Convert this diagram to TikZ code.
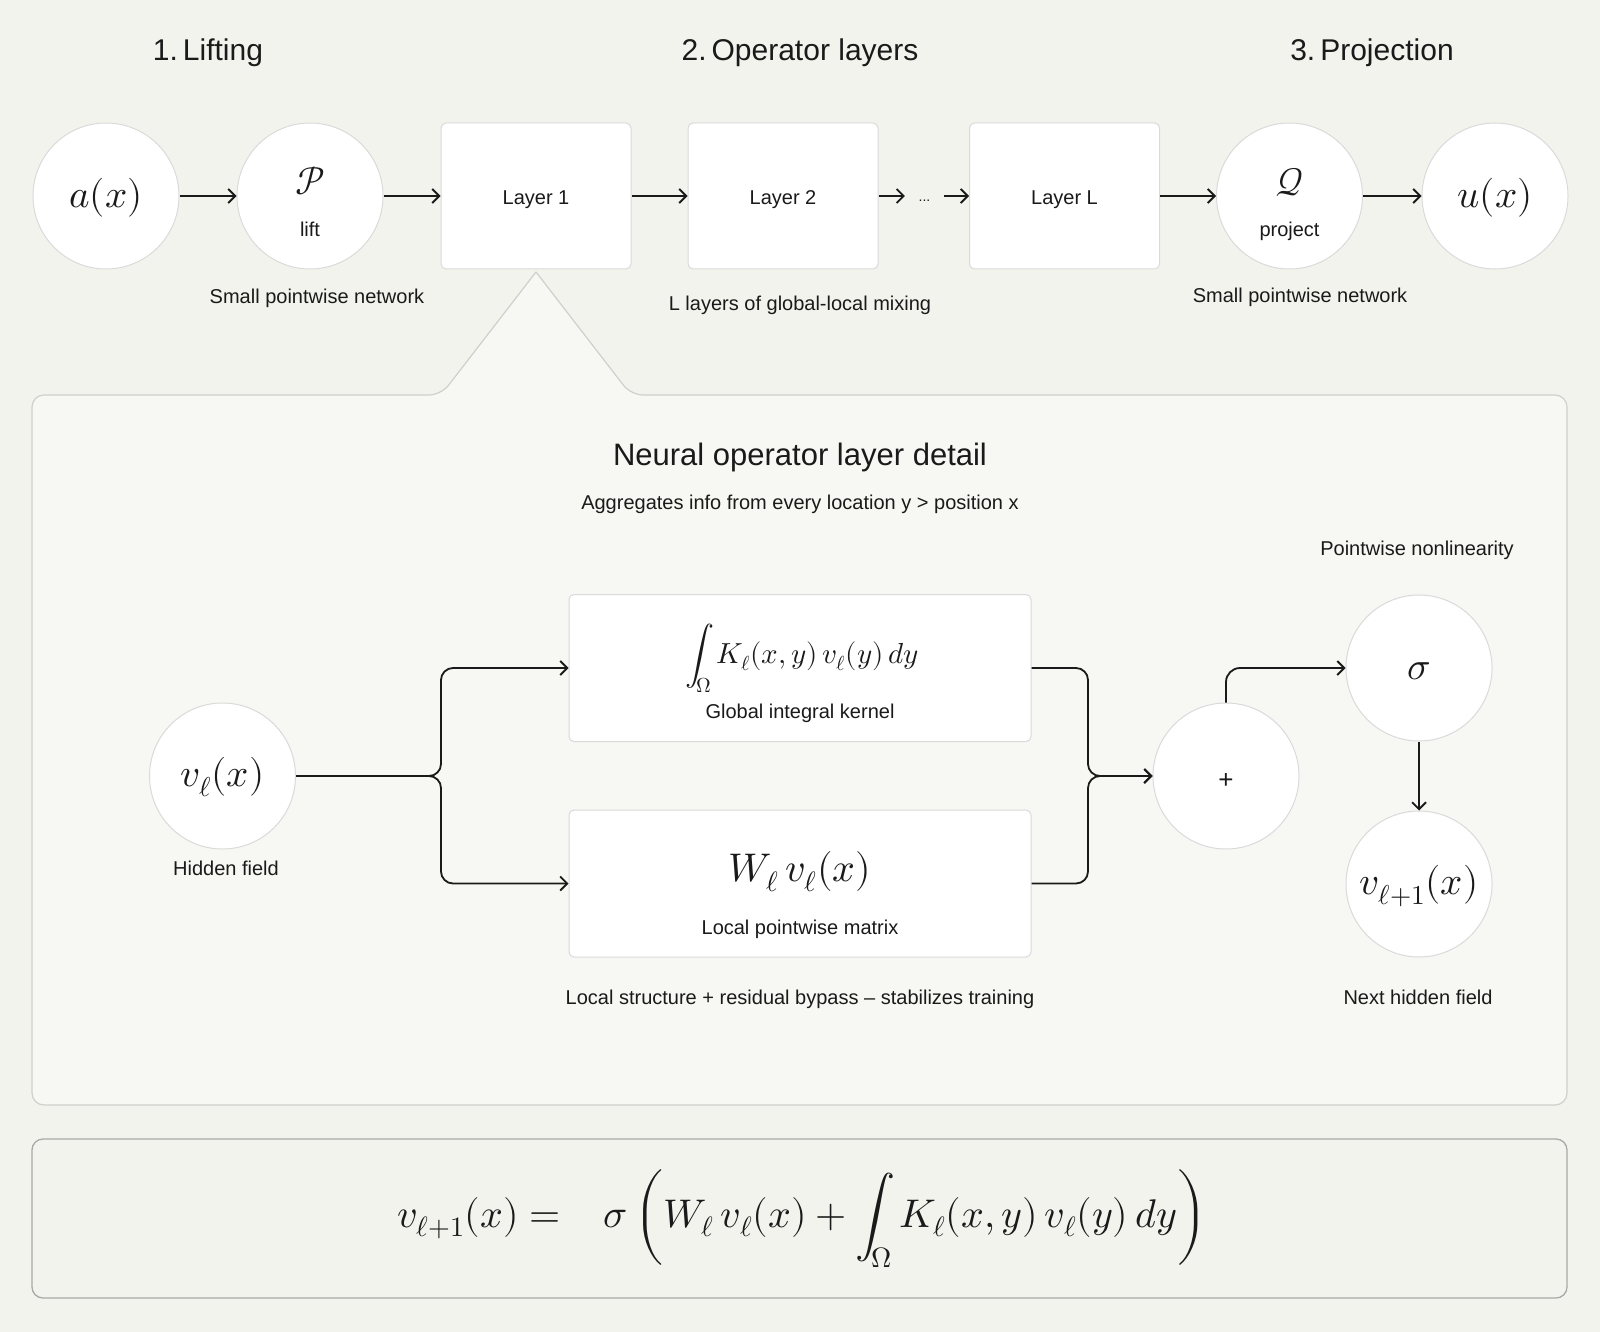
\documentclass[tikz,border=0pt]{standalone}
\usepackage{fontspec}
\usepackage{unicode-math}
\setmainfont{Liberation Sans}
\setmathfont{Latin Modern Math}
\usetikzlibrary{arrows.meta}
\definecolor{bgc}{HTML}{F3F3EE}
\definecolor{panelfill}{HTML}{F7F7F3}
\definecolor{panelline}{HTML}{CFCFCB}
\definecolor{boxline}{HTML}{A9A9A7}
\definecolor{nodeline}{HTML}{DADADA}
\definecolor{ink}{HTML}{1A1A1A}
\tikzset{
  circ/.style={circle, minimum size=146pt, inner sep=0pt, fill=white, draw=nodeline, line width=1pt},
  lbox/.style={rectangle, rounded corners=5pt, minimum width=190pt, minimum height=146pt, inner sep=0pt, fill=white, draw=nodeline, line width=1pt},
  wbox/.style={rectangle, rounded corners=5pt, minimum width=462pt, minimum height=147pt, inner sep=0pt, fill=white, draw=nodeline, line width=1pt},
  lbl/.style={anchor=base, inner sep=0pt, text=ink, font=\fontsize{20}{24}\selectfont},
  ttl/.style={anchor=base, inner sep=0pt, text=ink, font=\fontsize{30}{36}\selectfont},
  mth/.style={inner sep=0pt, text=ink, font=\fontsize{39}{47}\selectfont},
  arr/.style={draw=ink, line width=1.8pt, -{Straight Barb[length=7pt,width=14pt]}},
}
\begin{document}
\begin{tikzpicture}[x=1pt,y=-1pt]
\useasboundingbox (0,0) rectangle (1600,1332);
\fill[bgc] (0,0) rectangle (1600,1332);

% titles
\node[ttl] (t1) at (208,61) {1.\,Lifting};
\node[ttl] (t2) at (800,61) {2.\,Operator layers};
\node[ttl] (t3) at (1372,61) {3.\,Projection};

% detail panel with callout
\filldraw[fill=panelfill, draw=panelline, line width=1.2pt, rounded corners=12pt, line cap=round]
  (536,272) -- (441,395) -- (32,395) -- (32,1105) -- (1567,1105) -- (1567,395) -- (631,395) -- (536,272);

% bottom formula box
\draw[draw=boxline, line width=1.3pt, rounded corners=11pt] (32,1139) rectangle (1567,1298);

% top row
\node[circ] (a) at (106,196) {};
\node[mth] (atxt) at (106,198) {$a(x)$};
\node[circ] (P) at (310,196) {};
\node[mth, anchor=base] (Psym) at (310,195) {$\mathcal{P}$};
\node[lbl] (Plift) at (310,237) {lift};
\node[lbox] (L1) at (536,196) {};
\node[lbl] (L1t) at (536,205) {Layer 1};
\node[lbox] (L2) at (783,196) {};
\node[lbl] (L2t) at (783,205) {Layer 2};
\node[minimum width=39pt, inner sep=0pt, text height=12pt, text depth=0pt, text=ink, font=\fontsize{14}{16}\selectfont] (dots) at (924.5,196) {...};
\node[lbox] (LL) at (1064.5,196) {};
\node[lbl] (LLt) at (1064.5,205) {Layer L};
\node[circ] (Q) at (1289.5,196) {};
\node[mth, anchor=base] (Qsym) at (1289.5,196) {$\mathcal{Q}$};
\node[lbl] (Qproj) at (1289.5,237) {project};
\node[circ] (u) at (1495,196) {};
\node[mth] (utxt) at (1495,198) {$u(x)$};

\draw[arr] (a) -- (P);
\draw[arr] (P) -- (L1);
\draw[arr] (L1) -- (L2);
\draw[arr] (L2) -- (dots);
\draw[arr] (dots) -- (LL);
\draw[arr] (LL) -- (Q);
\draw[arr] (Q) -- (u);

\node[lbl] (c1) at (317,303) {Small pointwise network};
\node[lbl] (c2) at (800,310) {L layers of global-local mixing};
\node[lbl] (c3) at (1300,302) {Small pointwise network};

% panel content
\node[anchor=base, inner sep=0pt, text=ink, font=\fontsize{31}{37}\selectfont] (ptitle) at (800,465) {Neural operator layer detail};
\node[lbl] (psub) at (800,509) {Aggregates info from every location y > position x};
\node[lbl] (pnl) at (1417,555) {Pointwise nonlinearity};

\node[circ] (v) at (222.5,776) {};
\node[mth] (vtxt) at (222.5,777) {$v_\ell(x)$};
\node[lbl] (vcap) at (226,875) {Hidden field};

\node[wbox] (K) at (800,668) {};
\node[anchor=base, inner sep=0pt, text=ink, font=\fontsize{29}{34}\selectfont] (Ktxt) at (802,663) {$\displaystyle\int_\Omega K_\ell(x,y)\, v_\ell(y)\, dy$};
\node[lbl] (Kcap) at (800,718) {Global integral kernel};

\node[wbox] (W) at (800,883.5) {};
\node[inner sep=0pt, text=ink, font=\fontsize{40}{48}\selectfont] (Wtxt) at (800,872) {$W_\ell\, v_\ell(x)$};
\node[lbl] (Wcap) at (800,934.5) {Local pointwise matrix};

\node[circ] (plus) at (1226,776) {};
\node[anchor=base, inner sep=0pt, text=ink, font=\fontsize{26}{30}\selectfont] (plustxt) at (1226,788) {+};
\node[circ] (sigma) at (1419,668) {};
\node[mth] (sigtxt) at (1419,671) {$\sigma$};
\node[circ] (v1) at (1419,884) {};
\node[mth] (v1txt) at (1419,886) {$v_{\ell+1}(x)$};

\coordinate (split) at (441,776);
\coordinate (merge) at (1088,776);
\draw[arr, rounded corners=12pt] (v.east) -- (split) |- (K.west);
\draw[arr, rounded corners=12pt] (v.east) -- (split) |- (W.west);
\draw[arr, rounded corners=12pt] (K.east) -| (merge) -- (plus.west);
\draw[arr, rounded corners=12pt] (W.east) -| (merge) -- (plus.west);
\draw[arr, rounded corners=14pt] (plus.north) |- (sigma.west);
\draw[arr] (sigma.south) -- (v1.north);

\node[lbl] (lcap) at (800,1004) {Local structure + residual bypass – stabilizes training};
\node[lbl] (ncap) at (1418,1004) {Next hidden field};

% bottom formula
\node[anchor=base, inner sep=0pt, text=ink, font=\fontsize{40}{48}\selectfont] (eq) at (802,1227)
  {$\displaystyle v_{\ell+1}(x) = \hspace{0.8em}\sigma\left( W_\ell\, v_\ell(x) + \int_\Omega K_\ell(x,y)\, v_\ell(y)\, dy \right)$};
\end{tikzpicture}
\end{document}
